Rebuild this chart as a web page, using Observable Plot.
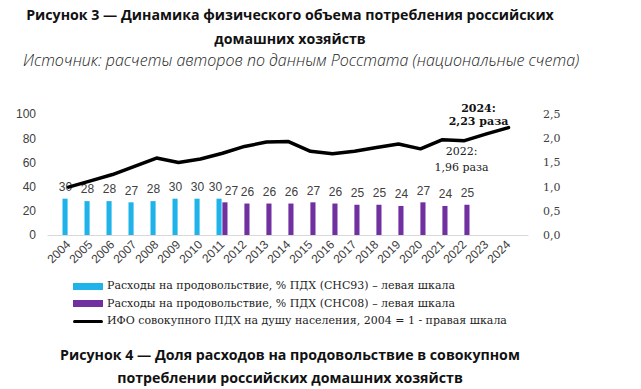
<!DOCTYPE html>
<html><head><meta charset="utf-8">
<script src="https://cdn.jsdelivr.net/npm/d3@7"></script>
<script src="https://cdn.jsdelivr.net/npm/@observablehq/plot@0.6"></script>
<style>
body{margin:0;background:#fff;width:641px;height:389px;overflow:hidden;position:relative;font-family:"Open Sans",sans-serif;color:#111;}
.t{position:absolute;left:0;width:580px;text-align:center;font-weight:700;font-size:14.2px;line-height:20px;white-space:nowrap;}
.s{position:absolute;left:23px;font-style:italic;font-size:16px;line-height:20px;white-space:nowrap;color:#222;font-weight:300;}
#chart{position:absolute;left:0;top:70px;}
.lg{position:absolute;left:73px;font-family:"DejaVu Serif",serif;font-size:11px;line-height:16px;color:#222;white-space:nowrap;}
.lg span.sw{display:inline-block;width:30px;vertical-align:middle;margin-right:4px;}
</style></head><body>
<div class="t" style="top:5px">Рисунок 3 — Динамика физического объема потребления российских</div>
<div class="t" style="top:29px">домашних хозяйств</div>
<div class="s" style="top:50px">Источник: расчеты авторов по данным Росстата (национальные счета)</div>
<div id="chart"></div>
<div id="legend"></div>
<div class="t" style="top:345px">Рисунок 4 — Доля расходов на продовольствие в совокупном</div>
<div class="t" style="top:368px">потреблении российских домашних хозяйств</div>
<script>
// ---- data ----
const years = [2004,2005,2006,2007,2008,2009,2010,2011,2012,2013,2014,2015,2016,2017,2018,2019,2020,2021,2022,2023,2024];
const incomeIndex = [1.00,1.13,1.26,1.43,1.60,1.51,1.58,1.70,1.84,1.93,1.94,1.74,1.69,1.74,1.82,1.89,1.79,1.98,1.96,2.10,2.23];
const sna93Years = [2004,2005,2006,2007,2008,2009,2010,2011];
const sna93Share = [30,28,28,27,28,30,30,30];
const sna08Years = [2011,2012,2013,2014,2015,2016,2017,2018,2019,2020,2021,2022];
const sna08Share = [27,26,26,26,27,26,25,25,24,27,24,25];
const leftTicks = [0,20,40,60,80,100];
const legendLabels = [
  "Расходы на продовольствие, % ПДХ (СНС93) – левая шкала",
  "Расходы на продовольствие, % ПДХ (СНС08) – левая шкала",
  "ИФО совокупного ПДХ на душу населения, 2004 = 1 - правая шкала"
];
const annotations = [
  {year: 2024, value: 2.23, text: "2024:\n2,23 раза", bold: true},
  {year: 2022, value: 1.96, text: "2022:\n1,96 раза", bold: false}
];
const RATIO = 40; // right scale 2.5 == left scale 100

const blue = "#1fb3ea", purple = "#7030a0";
const s93 = sna93Years.map((y,i)=>({year:y, v:sna93Share[i]}));
const s08 = sna08Years.map((y,i)=>({year:y, v:sna08Share[i]}));
const idx = years.map((y,i)=>({year:y, v:incomeIndex[i]}));

const sans = "Liberation Sans, Arial, sans-serif";
const serif = "DejaVu Serif, serif";

const chart = Plot.plot({
  width: 641, height: 205,
  marginTop: 44, marginBottom: 40, marginLeft: 47.5, marginRight: 112.5,
  style: {fontFamily: sans, fontSize: "12px", color: "#404040", background: "transparent"},
  x: {type: "band", domain: years, padding: 0, label: null},
  y: {domain: [0, 100], label: null},
  marks: [
    Plot.ruleY([0], {stroke: "#d9d9d9", strokeWidth: 1}),
    Plot.barY(s93, {x: "year", y: "v", fill: blue, insetLeft: 5.5, insetRight: 11.4}),
    Plot.barY(s08, {x: "year", y: "v", fill: purple, insetLeft: 11.4, insetRight: 5.5}),
    Plot.text(s93.filter(d=>d.year!==2011), {x: "year", y: "v", text: d=>String(d.v), dx: -3, dy: -12, fill: "#404040", fontSize: 12}),
    Plot.text(s93.filter(d=>d.year===2011), {x: "year", y: "v", text: d=>String(d.v), dx: -7, dy: -12, fill: "#404040", fontSize: 12}),
    Plot.text(s08.filter(d=>d.year===2011), {x: "year", y: "v", text: d=>String(d.v), dx: 9, dy: -12, fill: "#404040", fontSize: 12}),
    Plot.text(s08.filter(d=>d.year!==2011), {x: "year", y: "v", text: d=>String(d.v), dx: 3, dy: -12, fill: "#404040", fontSize: 12}),
    Plot.line(idx, {x: "year", y: d=>d.v*RATIO, stroke: "#000", strokeWidth: 3.5, strokeLinejoin: "round"}),
    Plot.text(annotations.filter(d=>d.bold), {x: "year", y: d=>d.value*RATIO, text: "text", dx: -30, dy: -13, fontFamily: serif, fontWeight: "bold", fontSize: 11, lineHeight: 1.1, fill: "#111"}),
    Plot.text(annotations.filter(d=>!d.bold), {x: "year", y: d=>d.value*RATIO, text: "text", dx: -3, dy: 17, fontFamily: serif, fontSize: 11, lineHeight: 1.5, fill: "#222"}),
    Plot.axisY({anchor: "left", ticks: leftTicks, tickSize: 0, tickPadding: 12, fontSize: 12, fill: "#404040", label: null}),
    Plot.axisY({anchor: "right", ticks: leftTicks, tickSize: 0, tickPadding: 14, fontFamily: serif, fontSize: 11, fill: "#404040", label: null,
      tickFormat: d => (d/RATIO).toFixed(1).replace(".", ",")}),
    Plot.axisX({tickRotate: -45, tickSize: 0, tickPadding: 7, fontSize: 12, fill: "#404040", label: null, tickFormat: d => String(d)})
  ]
});
document.getElementById("chart").appendChild(chart);

// legend
const legend = document.getElementById("legend");
const swatches = [
  {bg: blue, h: 7}, {bg: purple, h: 7}, {bg: "#000", h: 3}
];
const tops = [278, 295.5, 313];
legendLabels.forEach((lab, i) => {
  const row = document.createElement("div");
  row.className = "lg";
  row.style.top = tops[i] + "px";
  const sw = document.createElement("span");
  sw.className = "sw";
  sw.style.background = swatches[i].bg;
  sw.style.height = swatches[i].h + "px";
  if (i === 2) sw.style.borderRadius = "2px";
  row.appendChild(sw);
  row.appendChild(document.createTextNode(lab));
  legend.appendChild(row);
});
</script>
</body></html>
